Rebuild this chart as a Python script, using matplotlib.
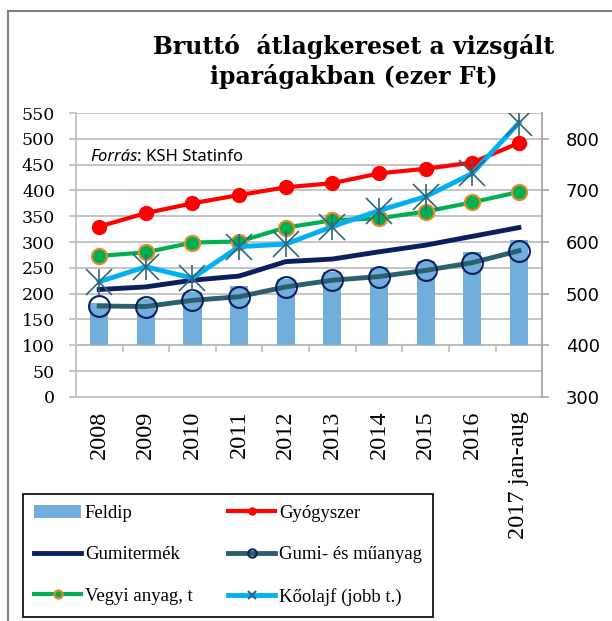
import matplotlib.pyplot as plt
from matplotlib.lines import Line2D
from matplotlib.patches import Patch
import numpy as np

# ---- data (ezer Ft) ----
years = ['2008', '2009', '2010', '2011', '2012', '2013', '2014', '2015', '2016', '2017 jan-aug']
feldip = [181, 189, 204, 214, 228, 241, 252, 264, 280, 304]
gyogyszer = [330, 356, 375, 391, 406, 414, 433, 442, 454, 492]
gumitermek = [208, 213, 226, 234, 262, 267, 281, 294, 311, 328]
gumi_muanyag = [176, 175, 187, 194, 213, 226, 233, 245, 260, 283]
vegyi = [273, 280, 299, 301, 328, 342, 346, 359, 377, 397]
koolaj = [523, 552, 530, 591, 596, 630, 661, 688, 733, 831]   # jobb tengely

bar_base = 100  # category axis crosses at 100

fig = plt.figure(figsize=(6.12, 6.21), dpi=100)
ax = fig.add_axes([0.124, 0.361, 0.762, 0.457])
ax2 = ax.twinx()

x = np.arange(len(years))
grid_c = '#BFBFBF'

ax.bar(x, np.array(feldip) - bar_base, bottom=bar_base, width=0.39, color='#72AEDB', zorder=2)
ax.plot(x, gumitermek, color='#0B1F5E', lw=3.5, zorder=3)
ax.plot(x, gumi_muanyag, color='#2B5F6B', lw=3.5, zorder=3)
ax.plot(x, gumi_muanyag, ls='none', marker='o', ms=15, mfc='none', mec='#0B1F5E', mew=1.5, zorder=4)
ax.plot(x, vegyi, color='#00B050', lw=3, marker='o', ms=11, mfc='#00B050', mec='#E98A2E', mew=1.5, zorder=4)
ax.plot(x, gyogyszer, color='#FF0000', lw=3, marker='o', ms=10, mfc='#FF0000', mec='#FF0000', zorder=5)

ax2.plot(x, koolaj, color='#00B0F0', lw=3.5, zorder=3)
ax2.plot(x, koolaj, ls='none', marker='x', ms=19, mec='#31657A', mew=1.2, zorder=4)
ax2.plot(x, koolaj, ls='none', marker='|', ms=19, mec='#31657A', mew=1.2, zorder=4)

# axes
ax.set_xlim(-0.5, len(years) - 0.5)
ax.set_ylim(0, 550)
ax.set_yticks(range(0, 551, 50))
ax2.set_ylim(300, 850)
ax2.set_yticks(range(300, 801, 100))

ax.grid(axis='y', color=grid_c, lw=1.3, zorder=0)
ax.set_axisbelow(True)
for a in (ax, ax2):
    a.spines['top'].set_visible(False)
ax.spines['bottom'].set_color(grid_c)
ax.spines['left'].set_color(grid_c)
ax.spines['right'].set_visible(False)
ax2.spines['left'].set_visible(False)
ax2.spines['bottom'].set_visible(False)
ax2.spines['right'].set_color('#A6A6A6')
ax2.spines['right'].set_linewidth(1.3)
ax.spines['left'].set_linewidth(1.3)
ax.spines['bottom'].set_linewidth(1.3)

ax.tick_params(axis='y', direction='out', length=5, color=grid_c, width=1.2, pad=10)
ax2.tick_params(axis='y', direction='out', length=5, color='#A6A6A6', width=1.2, pad=12)
for lab in ax.get_yticklabels():
    lab.set_fontfamily('DejaVu Serif')
    lab.set_fontsize(12.5)
for lab in ax2.get_yticklabels():
    lab.set_fontfamily('DejaVu Sans')
    lab.set_fontsize(13)

ax.set_xticks(x)
ax.set_xticklabels(years, rotation=90, fontfamily='Liberation Serif', fontsize=17.5, va='top')
ax.tick_params(axis='x', length=0, pad=10)

# category axis line at 100 with boundary tick marks
sec = ax.secondary_xaxis(bar_base / 550)
sec.set_xticks(x[:-1] + 0.5)
sec.set_xticklabels([])
sec.tick_params(axis='x', direction='out', length=5, color=grid_c, width=1.2)
sec.spines['bottom'].set_color('#A6A6A6')
sec.spines['bottom'].set_linewidth(1.5)

# source note
t1 = ax.text(0.03, 0.83, 'Forrás', transform=ax.transAxes, fontfamily='Noto Sans',
             style='italic', fontsize=12, va='baseline')
ax.annotate(': KSH Statinfo', xy=(1, 0), xycoords=t1, va='bottom', ha='left',
            fontfamily='Noto Sans', fontsize=12)

# title
fig.text(0.578, 0.901, 'Bruttó  átlagkereset a vizsgált\niparágakban (ezer Ft)', ha='center',
         va='center', fontfamily='DejaVu Serif', fontweight='bold', fontsize=17, linespacing=1.25)

# frame lines
fig.add_artist(Line2D([0.013, 0.013], [0, 0.982], transform=fig.transFigure, color='#808080', lw=1.5))
fig.add_artist(Line2D([0.013, 1], [0.982, 0.982], transform=fig.transFigure, color='#808080', lw=1.5))

# legend
handles = [
    Patch(facecolor='#72AEDB', label='Feldip'),
    Line2D([], [], color='#0B1F5E', lw=3.5, label='Gumitermék'),
    Line2D([], [], color='#00B050', lw=3, marker='o', ms=6, mfc='#00B050', mec='#E98A2E', mew=1.5,
           label='Vegyi anyag, t'),
    Line2D([], [], color='#FF0000', lw=3, marker='o', ms=5, label='Gyógyszer'),
    Line2D([], [], color='#2B5F6B', lw=3.5, marker='o', ms=6, mfc='none', mec='#0B1F5E', mew=1.5,
           label='Gumi- és műanyag'),
    Line2D([], [], color='#00B0F0', lw=3.5, marker='x', ms=6, mec='#31657A', mew=1.5,
           label='Kőolajf (jobb t.)'),
]
leg = fig.legend(handles=handles, ncol=2, loc='lower left',
                 bbox_to_anchor=(0.0376, 0.0064),
                 borderaxespad=0, prop={'family': 'Liberation Serif', 'size': 13.5},
                 handlelength=2.5, handletextpad=0.2, labelspacing=1.3,
                 columnspacing=1.9, borderpad=0.6, fancybox=False, framealpha=1)
leg.get_frame().set_edgecolor('black')
leg.get_frame().set_linewidth(1.2)

fig.savefig('out.png', dpi=100)
